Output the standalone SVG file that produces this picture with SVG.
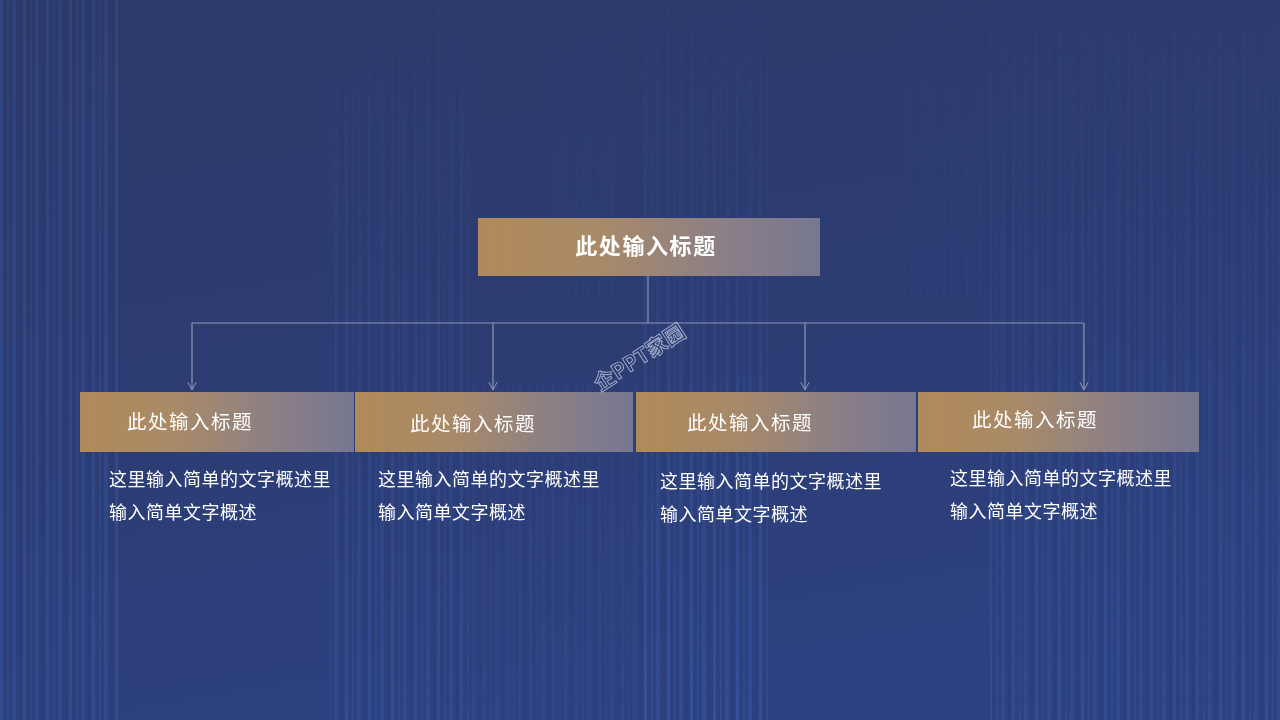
<svg xmlns="http://www.w3.org/2000/svg" width="1280" height="720" viewBox="0 0 1280 720">
  <defs>
    <linearGradient id="bg" x1="0" y1="0" x2="0.3" y2="1">
      <stop offset="0" stop-color="#2c3a6a"/>
      <stop offset="0.6" stop-color="#2c3d74"/>
      <stop offset="1" stop-color="#2d4180"/>
    </linearGradient>
    <linearGradient id="box" x1="0" y1="0" x2="1" y2="0">
      <stop offset="0" stop-color="#b08a59"/>
      <stop offset="0.35" stop-color="#a98a68"/>
      <stop offset="0.7" stop-color="#8c8085"/>
      <stop offset="1" stop-color="#777792"/>
    </linearGradient>
    <linearGradient id="fade" x1="0" y1="0" x2="0" y2="1">
      <stop offset="0" stop-color="#fff" stop-opacity="0.1"/>
      <stop offset="0.5" stop-color="#fff" stop-opacity="0.5"/>
      <stop offset="1" stop-color="#fff" stop-opacity="1"/>
    </linearGradient>
    <linearGradient id="fadeL" x1="0" y1="0" x2="0" y2="1">
      <stop offset="0" stop-color="#fff" stop-opacity="0.7"/>
      <stop offset="1" stop-color="#fff" stop-opacity="1"/>
    </linearGradient>
    <pattern id="stripes" width="23" height="10" patternUnits="userSpaceOnUse">
      <rect x="0" y="0" width="3" height="10" fill="#3a5aa8" opacity="0.45"/>
      <rect x="7" y="0" width="2" height="10" fill="#3a5aa8" opacity="0.3"/>
      <rect x="12" y="0" width="4" height="10" fill="#3658a6" opacity="0.4"/>
      <rect x="19" y="0" width="2" height="10" fill="#2a3a70" opacity="0.35"/>
    </pattern>
    <mask id="m1">
      <rect x="0" y="0" width="1280" height="720" fill="url(#fade)"/>
    </mask>
    <mask id="m2">
      <rect x="0" y="0" width="1280" height="720" fill="url(#fadeL)"/>
    </mask>
    <marker id="arr" viewBox="0 0 10 10" refX="9" refY="5" markerWidth="10" markerHeight="10" markerUnits="userSpaceOnUse" orient="auto">
      <path d="M1,0.8 L9,5 L1,9.2" fill="none" stroke="#9097b2" stroke-width="1"/>
    </marker>
    <style>
      .conn { fill: none; stroke: #8e95b0; stroke-width: 1.2; }
      .box { fill: url(#box); }
      .ttl { font-family: "Noto Sans CJK SC", "Noto Sans", sans-serif; fill: #ffffff; }
      .main { font-size: 22px; font-weight: bold; letter-spacing: 1.6px; }
      .sub { font-size: 19.5px; letter-spacing: 1.5px; }
      .desc { font-family: "Noto Sans CJK SC", "Noto Sans", sans-serif; fill: #ffffff; font-size: 18px; letter-spacing: 0.5px; }
    </style>
  </defs>

  <!-- background -->
  <rect x="0" y="0" width="1280" height="720" fill="url(#bg)"/>
  <g mask="url(#m2)">
    <rect x="0" y="0" width="120" height="720" fill="url(#stripes)"/>
  </g>
  <g mask="url(#m1)">
    <rect x="330" y="0" width="140" height="720" fill="url(#stripes)"/>
    <rect x="470" y="380" width="300" height="340" fill="url(#stripes)" opacity="0.5"/>
    <rect x="640" y="0" width="130" height="720" fill="url(#stripes)"/>
    <rect x="990" y="0" width="290" height="720" fill="url(#stripes)"/>
    <rect x="550" y="0" width="70" height="300" fill="url(#stripes)" opacity="0.5"/>
    <rect x="900" y="0" width="90" height="300" fill="url(#stripes)" opacity="0.5"/>
  </g>

  <!-- connectors -->
  <g id="connectors">
    <path class="conn" d="M648,276 V323"/>
    <path class="conn" d="M192,323 H1084"/>
    <path class="conn" d="M192,323 V390" marker-end="url(#arr)"/>
    <path class="conn" d="M493,323 V390" marker-end="url(#arr)"/>
    <path class="conn" d="M805,323 V390" marker-end="url(#arr)"/>
    <path class="conn" d="M1084,323 V390" marker-end="url(#arr)"/>
  </g>

  <!-- root node -->
  <g id="root">
    <rect class="box" x="478" y="218" width="342" height="58"/>
    <text class="ttl main" x="646" y="254" text-anchor="middle">此处输入标题</text>
  </g>

  <!-- child nodes -->
  <g id="node1">
    <rect class="box" x="80" y="392" width="274" height="60"/>
    <text class="ttl sub" x="127" y="429">此处输入标题</text>
    <text class="desc" x="109" y="485.5">这里输入简单的文字概述里</text>
    <text class="desc" x="109" y="518.5">输入简单文字概述</text>
  </g>
  <g id="node2">
    <rect class="box" x="355" y="392" width="278" height="60"/>
    <text class="ttl sub" x="410" y="431">此处输入标题</text>
    <text class="desc" x="378" y="485.5">这里输入简单的文字概述里</text>
    <text class="desc" x="378" y="518.5">输入简单文字概述</text>
  </g>
  <g id="node3">
    <rect class="box" x="636" y="392" width="280" height="60"/>
    <text class="ttl sub" x="687" y="430">此处输入标题</text>
    <text class="desc" x="660" y="487.5">这里输入简单的文字概述里</text>
    <text class="desc" x="660" y="520.5">输入简单文字概述</text>
  </g>
  <g id="node4">
    <rect class="box" x="918" y="392" width="281" height="60"/>
    <text class="ttl sub" x="972" y="427">此处输入标题</text>
    <text class="desc" x="950" y="484.5">这里输入简单的文字概述里</text>
    <text class="desc" x="950" y="517.5">输入简单文字概述</text>
  </g>

  <!-- watermark -->
  <g id="watermark" transform="translate(600,392) rotate(-33)">
    <text x="0" y="0" font-family="Noto Sans CJK SC, sans-serif" font-size="21" font-weight="bold" fill="none" stroke="#c8cde0" stroke-width="0.9" stroke-opacity="0.8">企PPT家园</text>
  </g>
</svg>
